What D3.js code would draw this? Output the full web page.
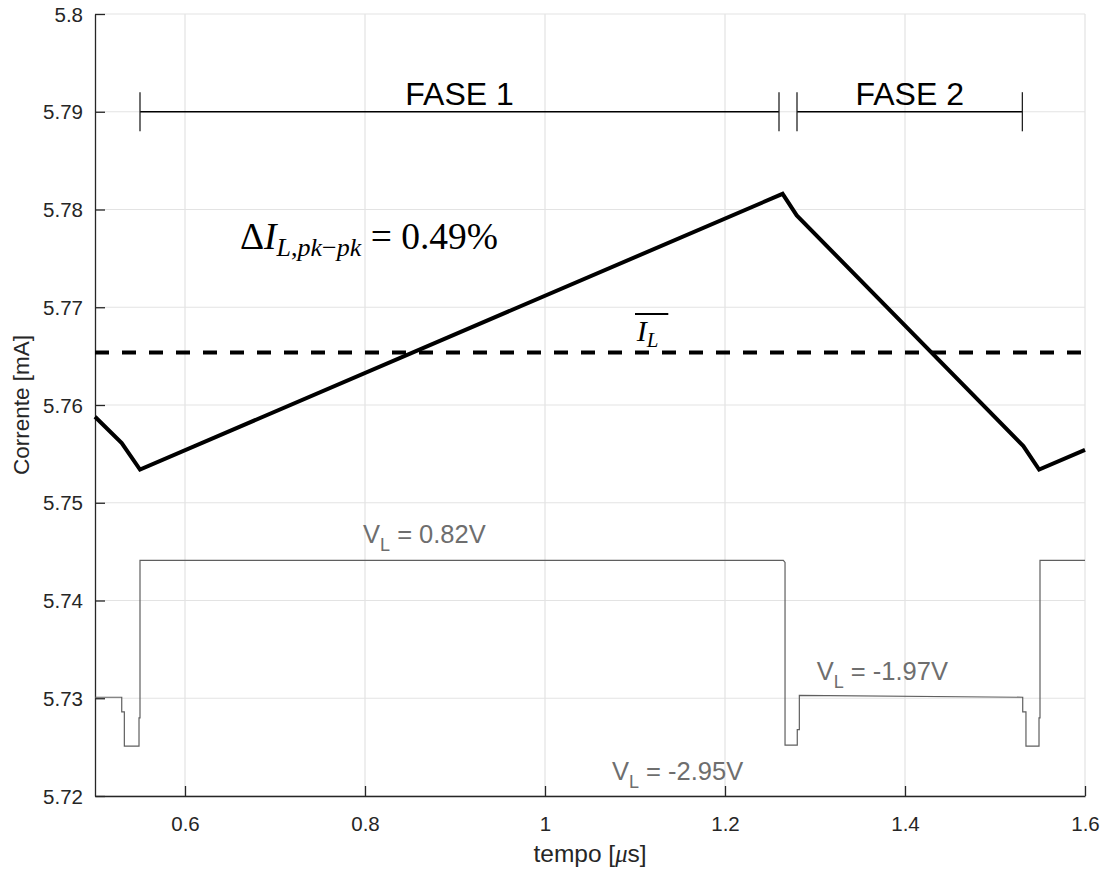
<!DOCTYPE html>
<html>
<head>
<meta charset="utf-8">
<script src="https://cdn.jsdelivr.net/npm/d3@7"></script>
<style>
  body { margin: 0; background: #fff; }
  svg { display: block; font-family: "Liberation Sans", Arial, sans-serif; }
  .serif { font-family: "Liberation Serif", "Times New Roman", serif; }
</style>
</head>
<body>
<svg id="chart" width="1103" height="870"></svg>
<script>
// Inductor current over one switching period (mA vs µs)
const tCurrent = [0.5, 0.5297, 0.55, 1.264, 1.2797, 1.5315, 1.549, 1.6];
const iCurrent = [5.7588, 5.7561, 5.7534, 5.7816, 5.7794, 5.7558, 5.7534, 5.7554];

// Average current level
const iMean = 5.76536;

// Inductor voltage waveform, scaled onto the current axis
const tVoltage = [0.5, 0.5297, 0.5297, 0.5326, 0.5326, 0.5489, 0.5489, 0.55, 0.55,
  1.2648, 1.2667, 1.2667, 1.2803, 1.2803, 1.2826, 1.2826,
  1.5308, 1.5308, 1.5322, 1.5322, 1.5344, 1.5344, 1.5489, 1.5489, 1.55, 1.55, 1.6];
const vVoltage = [5.7301, 5.7301, 5.7286, 5.7286, 5.7251, 5.7251, 5.7280, 5.7280, 5.7441,
  5.7441, 5.7439, 5.7252, 5.7252, 5.7268, 5.7268, 5.7303,
  5.7301, 5.7286, 5.7286, 5.7286, 5.7286, 5.7251, 5.7251, 5.7280, 5.7280, 5.7441, 5.7441];

// Phase brackets
const phaseNames = ["FASE 1", "FASE 2"];
const phaseStart = [0.55, 1.28];
const phaseEnd = [1.26, 1.5304];
const phaseLevel = 5.79;

// Voltage level labels
const voltLabels = ["0.82V", "-1.97V", "-2.95V"];

// Axis ticks
const xTicks = [0.6, 0.8, 1.0, 1.2, 1.4, 1.6];
const yTicks = [5.72, 5.73, 5.74, 5.75, 5.76, 5.77, 5.78, 5.79, 5.8];

const W = 1103, H = 870;
const margin = { left: 95, right: 18, top: 14, bottom: 74 };
const svg = d3.select("#chart");

const x = d3.scaleLinear().domain([0.5, 1.6]).range([margin.left, W - margin.right]);
const y = d3.scaleLinear().domain([5.72, 5.8]).range([H - margin.bottom, margin.top]);

const axisColor = "#262626";
const gridColor = "#e3e3e3";

// Grid
const grid = svg.append("g");
grid.selectAll("line.gx").data(xTicks).join("line")
  .attr("x1", d => x(d)).attr("x2", d => x(d))
  .attr("y1", y(5.72)).attr("y2", y(5.8))
  .attr("stroke", gridColor).attr("stroke-width", 1.2);
grid.selectAll("line.gy").data(yTicks).join("line")
  .attr("x1", x(0.5)).attr("x2", x(1.6))
  .attr("y1", d => y(d)).attr("y2", d => y(d))
  .attr("stroke", gridColor).attr("stroke-width", 1.2);

// Axes (ticks pointing inward)
const xAxis = d3.axisBottom(x).tickValues(xTicks).tickSizeInner(-10).tickSizeOuter(0)
  .tickPadding(20).tickFormat(d => String(+d.toFixed(1)));
const gx = svg.append("g").attr("transform", `translate(0,${y(5.72)})`).call(xAxis);
const yAxis = d3.axisLeft(y).tickValues(yTicks).tickSizeInner(-10).tickSizeOuter(0)
  .tickPadding(12).tickFormat(d => String(+d.toFixed(2)));
const gy = svg.append("g").attr("transform", `translate(${x(0.5)},0)`).call(yAxis);
[gx, gy].forEach(g => {
  g.attr("font-family", null);
  g.select(".domain").attr("stroke", axisColor).attr("stroke-width", 1.3);
  g.selectAll(".tick line").attr("stroke", axisColor).attr("stroke-width", 1.3);
  g.selectAll(".tick text").attr("fill", axisColor).attr("font-size", 20.5);
});
gy.selectAll(".tick text").attr("dy", "0.35em");

// Axis titles
svg.append("text").attr("x", x(1.05)).attr("y", 862)
  .attr("text-anchor", "middle").attr("font-size", 24.5).attr("fill", axisColor)
  .call(t => {
    t.append("tspan").text("tempo [");
    t.append("tspan").attr("class", "serif").attr("font-style", "italic").text("μ");
    t.append("tspan").text("s]");
  });
svg.append("text")
  .attr("transform", `translate(29,${y(5.76)}) rotate(-90)`)
  .attr("text-anchor", "middle").attr("font-size", 22.5).attr("fill", axisColor)
  .text("Corrente [mA]");

// Voltage waveform
const voltPts = tVoltage.map((t, i) => [t, vVoltage[i]]);
svg.append("path").datum(voltPts)
  .attr("d", d3.line().x(d => x(d[0])).y(d => y(d[1])))
  .attr("fill", "none").attr("stroke", "#5f5f5f").attr("stroke-width", 1.2);

// Average current (dashed)
svg.append("line")
  .attr("x1", x(0.5)).attr("x2", x(1.6))
  .attr("y1", y(iMean)).attr("y2", y(iMean))
  .attr("stroke", "#000").attr("stroke-width", 4)
  .attr("stroke-dasharray", "14,13");

// Inductor current
const curPts = tCurrent.map((t, i) => [t, iCurrent[i]]);
svg.append("path").datum(curPts)
  .attr("d", d3.line().x(d => x(d[0])).y(d => y(d[1])))
  .attr("fill", "none").attr("stroke", "#000").attr("stroke-width", 4)
  .attr("stroke-linejoin", "miter");

// Phase brackets
const brackets = svg.append("g");
phaseNames.forEach((name, i) => {
  brackets.append("line")
    .attr("x1", x(phaseStart[i])).attr("x2", x(phaseEnd[i]))
    .attr("y1", y(phaseLevel)).attr("y2", y(phaseLevel))
    .attr("stroke", "#000").attr("stroke-width", 1.3);
  [phaseStart[i], phaseEnd[i]].forEach(t => {
    brackets.append("line")
      .attr("x1", x(t)).attr("x2", x(t))
      .attr("y1", y(phaseLevel + 0.002)).attr("y2", y(phaseLevel - 0.002))
      .attr("stroke", "#222").attr("stroke-width", 1.3);
  });
  brackets.append("text")
    .attr("x", x((phaseStart[i] + phaseEnd[i]) / 2)).attr("y", y(5.79069))
    .attr("text-anchor", "middle").attr("font-size", 32).attr("fill", "#000")
    .text(name);
});

// Voltage labels: V_L = value
const voltPos = [[0.7978, 5.74587], [1.3019, 5.73187], [1.0744, 5.72164]];
voltLabels.forEach((lab, i) => {
  const t = svg.append("text")
    .attr("x", x(voltPos[i][0])).attr("y", y(voltPos[i][1]))
    .attr("font-size", 25.5).attr("fill", "#6e6e6e");
  t.append("tspan").text("V");
  t.append("tspan").attr("font-size", 18).attr("dy", 8).text("L");
  t.append("tspan").attr("dy", -8).text(" = " + lab);
});

// Peak-to-peak ripple annotation
const ripple = svg.append("text").attr("class", "serif")
  .attr("x", x(0.661)).attr("y", y(5.7760))
  .attr("font-size", 37.5).attr("fill", "#000");
ripple.append("tspan").text("Δ");
ripple.append("tspan").attr("font-style", "italic").text("I");
const sub = ripple.append("tspan").attr("font-size", 26).attr("dy", 7);
sub.append("tspan").attr("font-style", "italic").text("L");
sub.append("tspan").text(",");
sub.append("tspan").attr("font-style", "italic").text("pk");
sub.append("tspan").text("−");
sub.append("tspan").attr("font-style", "italic").text("pk");
ripple.append("tspan").attr("dy", -7).attr("font-size", 37.5).text(" = 0.49%");

// Mean current label with overbar
const meanLab = svg.append("text").attr("class", "serif")
  .attr("x", x(1.1019)).attr("y", y(5.76652))
  .attr("font-size", 30).attr("fill", "#000");
meanLab.append("tspan").attr("font-style", "italic").text("I");
meanLab.append("tspan").attr("font-style", "italic").attr("font-size", 21).attr("dy", 6).text("L");
svg.append("line")
  .attr("x1", x(1.1)).attr("x2", x(1.137))
  .attr("y1", y(5.7693)).attr("y2", y(5.7693))
  .attr("stroke", "#000").attr("stroke-width", 2);
</script>
</body>
</html>
